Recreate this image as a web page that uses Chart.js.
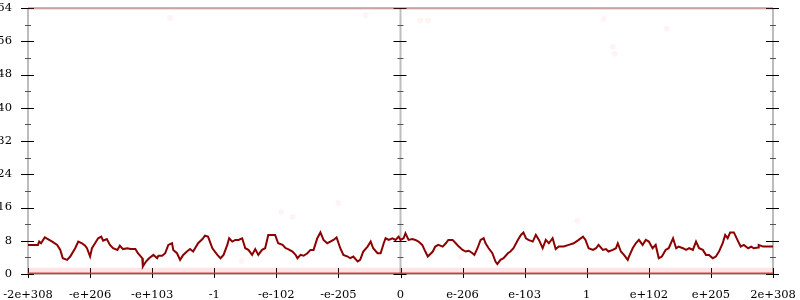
<!DOCTYPE html>
<html>
<head>
<meta charset="utf-8">
<script src="https://cdn.jsdelivr.net/npm/chart.js@4"></script>
<style>
  html, body { margin: 0; padding: 0; background: #fff; }
  #wrap { width: 800px; height: 300px; }
</style>
</head>
<body>
<div id="wrap"><canvas id="chart"></canvas></div>
<script>
// tick labels along the bottom, one per unit from -6 to 6
const xTickLabels = ['-2e+308', '-e+206', '-e+103', '-1', '-e-102', '-e-205', '0',
                     'e-206', 'e-103', '1', 'e+102', 'e+205', '2e+308'];
// vertical axes drawn at these x values
const axisXs = [-6, 0, 6];

// main trace (x in tick units, y value)
const lineX = [
  -6.00, -5.92, -5.84, -5.82, -5.79, -5.73, -5.68, -5.61, -5.53, -5.48,
  -5.44, -5.37, -5.32, -5.24, -5.19, -5.13, -5.08, -5.05, -5.00, -4.97,
  -4.92, -4.87, -4.82, -4.79, -4.73, -4.68, -4.63, -4.56, -4.52, -4.47,
  -4.40, -4.35, -4.27, -4.23, -4.16, -4.15, -4.10, -4.05, -3.98, -3.92,
  -3.90, -3.84, -3.79, -3.74, -3.68, -3.66, -3.60, -3.55, -3.50, -3.44,
  -3.39, -3.34, -3.26, -3.19, -3.15, -3.10,
  -3.03, -2.95, -2.90, -2.85, -2.79, -2.76, -2.71, -2.66, -2.61, -2.55,
  -2.50, -2.45, -2.39, -2.34, -2.29, -2.23, -2.18, -2.13, -2.06, -2.02,
  -1.97, -1.90, -1.85, -1.81, -1.74, -1.69, -1.66, -1.61, -1.56, -1.50,
  -1.45, -1.40, -1.34, -1.29, -1.24, -1.18, -1.13, -1.08, -1.03, -0.97,
  -0.92, -0.85, -0.81, -0.76, -0.69, -0.65, -0.60, -0.53, -0.48, -0.44,
  -0.37, -0.32, -0.27, -0.24, -0.19, -0.13, -0.08, -0.03,
  0.00, 0.05, 0.08, 0.13, 0.19, 0.24, 0.29, 0.35, 0.40, 0.44,
  0.52, 0.56, 0.61, 0.68, 0.73, 0.77, 0.84, 0.89, 0.94, 1.00,
  1.05, 1.10, 1.16, 1.19, 1.24, 1.29, 1.34, 1.37, 1.42, 1.48,
  1.53, 1.56, 1.61, 1.66, 1.73, 1.77, 1.82, 1.89, 1.94, 1.98,
  2.02, 2.06, 2.13, 2.18, 2.23, 2.29, 2.34, 2.39, 2.45, 2.50,
  2.55, 2.63, 2.71, 2.79, 2.87, 2.94, 2.98,
  3.03, 3.10, 3.15, 3.19, 3.26, 3.31, 3.35, 3.42, 3.47, 3.50,
  3.55, 3.60, 3.66, 3.68, 3.74, 3.79, 3.84, 3.90, 3.95, 4.00,
  4.06, 4.11, 4.16, 4.21, 4.27, 4.32, 4.39, 4.44, 4.48, 4.55,
  4.60, 4.65, 4.71, 4.76, 4.81, 4.87, 4.92, 4.97, 5.03, 5.08,
  5.13, 5.19, 5.23, 5.27, 5.31, 5.37, 5.44, 5.48, 5.53, 5.60,
  5.65, 5.69, 5.76, 5.77, 5.84, 5.92, 6.00
];
const lineY = [
  7.0, 7.0, 7.0, 7.8, 7.4, 8.8, 8.4, 7.8, 7.0, 5.8,
  3.8, 3.4, 4.2, 6.2, 7.8, 7.4, 6.8, 6.2, 4.2, 6.2,
  7.4, 8.6, 9.0, 8.0, 8.4, 7.0, 6.2, 5.8, 6.8, 6.0,
  6.2, 6.0, 6.0, 5.0, 3.8, 1.8, 3.0, 3.8, 4.6, 3.8,
  4.4, 4.4, 5.0, 7.0, 7.4, 5.8, 5.0, 3.4, 4.6, 5.4,
  6.0, 5.4, 7.4, 8.4, 9.2, 9.0,
  6.2, 4.6, 3.8, 4.6, 7.0, 8.6, 7.8, 8.2, 8.2, 8.6,
  6.2, 5.8, 4.6, 6.0, 4.6, 5.8, 6.2, 9.4, 9.4, 9.4,
  7.4, 7.0, 6.2, 6.0, 5.4, 4.6, 3.8, 4.6, 4.4, 5.0,
  5.8, 5.8, 8.6, 10.0, 8.2, 7.4, 7.8, 8.2, 8.8, 6.2,
  4.6, 4.2, 3.8, 4.2, 3.0, 3.4, 5.4, 6.6, 7.8, 6.2,
  5.0, 5.0, 7.4, 8.6, 8.2, 8.6, 8.2, 9.0,
  8.2, 8.6, 9.8, 8.2, 8.4, 8.2, 7.8, 7.0, 5.4, 4.2,
  5.4, 6.6, 7.0, 6.6, 7.4, 8.2, 8.2, 7.4, 6.6, 5.8,
  5.4, 5.6, 5.0, 4.6, 6.2, 8.2, 8.6, 7.4, 6.2, 5.0,
  3.0, 2.4, 3.4, 3.8, 5.0, 5.4, 6.2, 8.2, 9.4, 10.0,
  8.6, 8.2, 7.8, 9.4, 8.2, 6.2, 8.2, 7.4, 8.6, 6.0,
  6.6, 6.6, 7.0, 7.4, 8.2, 9.0, 8.2,
  6.2, 5.8, 6.2, 7.0, 5.8, 6.0, 5.4, 5.8, 6.2, 7.4,
  5.4, 4.6, 3.4, 4.2, 6.2, 7.4, 8.2, 7.0, 8.2, 7.8,
  6.2, 7.0, 3.8, 4.2, 5.8, 6.2, 8.6, 6.2, 6.6, 6.2,
  5.8, 6.2, 5.8, 7.8, 6.2, 5.8, 4.6, 4.6, 3.8, 4.2,
  5.4, 7.4, 9.4, 8.6, 10.0, 10.0, 7.8, 6.6, 7.0, 6.2,
  6.6, 6.2, 6.4, 7.0, 6.6, 6.6, 6.6
];

// faint stray points scattered in the plot
const strayX = [-3.71, -0.56, 0.32, 0.44, 3.27, 3.42, 3.45, 4.29, -1.74, -1.00, -1.92, 2.85, 0.97, -2.56];
const strayY = [61.6, 62.3, 61.0, 61.0, 61.4, 54.6, 53.0, 59.0, 13.7, 17.1, 14.9, 12.8, 4.1, 3.1];

// thin bands hugging the bottom and top edges
const bottomBand = 1.5;
const topBand = 63.5;

const xs = [-6, 6];

const axesPlugin = {
    id: 'axes',
    beforeDatasetsDraw(chart) {
        const { ctx, chartArea: a, scales: { x, y } } = chart;
        ctx.save();
        ctx.lineCap = 'butt';
        // axis lines
        ctx.strokeStyle = '#bdbdbd';
        ctx.lineWidth = 2;
        ctx.beginPath();
        axisXs.forEach(v => {
            const px = x.getPixelForValue(v);
            ctx.moveTo(px, a.top);
            ctx.lineTo(px, a.bottom);
        });
        ctx.moveTo(a.left, a.top);
        ctx.lineTo(a.right, a.top);
        ctx.moveTo(a.left, a.bottom);
        ctx.lineTo(a.right, a.bottom);
        ctx.stroke();

        // y ticks on every vertical axis, majors from the scale, minors halfway
        const majors = y.ticks.map(t => t.value);
        axisXs.forEach(v => {
            const px = x.getPixelForValue(v);
            ctx.strokeStyle = '#000';
            ctx.lineWidth = 1;
            ctx.beginPath();
            majors.forEach(m => {
                const py = Math.round(y.getPixelForValue(m)) + 0.5;
                ctx.moveTo(px - 7, py);
                ctx.lineTo(px + 6, py);
            });
            ctx.stroke();
            ctx.strokeStyle = '#555';
            ctx.beginPath();
            for (let i = 0; i < majors.length - 1; i++) {
                const py = Math.round(y.getPixelForValue((majors[i] + majors[i + 1]) / 2)) + 0.5;
                ctx.moveTo(px - 3, py);
                ctx.lineTo(px + 3, py);
            }
            ctx.stroke();
        });

        // x ticks along the bottom
        ctx.strokeStyle = '#000';
        ctx.lineWidth = 1;
        ctx.beginPath();
        x.ticks.forEach(t => {
            const px = Math.round(x.getPixelForValue(t.value)) + 0.5;
            ctx.moveTo(px, a.bottom - 6);
            ctx.lineTo(px, a.bottom + 4);
        });
        ctx.stroke();
        ctx.restore();
    }
};

document.addEventListener('DOMContentLoaded', () => {
    Chart.defaults.font.family = '"DejaVu Serif", serif';
    Chart.defaults.font.size = 11.5;
    Chart.defaults.color = '#000';

    const ctx = document.getElementById('chart').getContext('2d');
    new Chart(ctx, {
        type: 'line',
        data: {
            datasets: [
                {
                    data: lineX.map((v, i) => ({ x: v, y: lineY[i] })),
                    borderColor: '#8b0000',
                    borderWidth: 2,
                    pointRadius: 0,
                    order: 1
                },
                {
                    data: strayX.map((v, i) => ({ x: v, y: strayY[i] })),
                    showLine: false,
                    pointRadius: 3,
                    pointBorderWidth: 0,
                    pointBackgroundColor: 'rgba(255, 60, 60, 0.06)',
                    order: 4
                },
                {
                    data: xs.map(v => ({ x: v, y: bottomBand })),
                    borderWidth: 0,
                    pointRadius: 0,
                    fill: 'origin',
                    backgroundColor: 'rgba(240, 70, 70, 0.14)',
                    order: 3
                },
                {
                    data: xs.map(v => ({ x: v, y: 0 })),
                    borderColor: 'rgba(228, 40, 40, 0.9)',
                    borderWidth: 3,
                    pointRadius: 0,
                    order: 2
                },
                {
                    data: xs.map(v => ({ x: v, y: topBand })),
                    borderWidth: 0,
                    pointRadius: 0,
                    fill: 'end',
                    backgroundColor: 'rgba(240, 70, 70, 0.2)',
                    order: 3
                }
            ]
        },
        options: {
            responsive: true,
            maintainAspectRatio: false,
            animation: false,
            layout: { padding: { top: 8, right: 27, left: 0, bottom: 0 } },
            plugins: { legend: { display: false }, tooltip: { enabled: false } },
            scales: {
                x: {
                    type: 'linear',
                    min: -6,
                    max: 6,
                    grid: { display: false },
                    border: { display: false },
                    ticks: {
                        stepSize: 1,
                        autoSkip: false,
                        maxRotation: 0,
                        padding: 6,
                        callback: v => xTickLabels[v + 6]
                    },
                    afterFit: s => {
                        s.height = 26;
                        s.paddingLeft = 0;
                        s.paddingRight = 0;
                    }
                },
                y: {
                    min: 0,
                    max: 64,
                    grid: { display: false },
                    border: { display: false },
                    ticks: { stepSize: 8, padding: 8 },
                    afterFit: s => {
                        s.width = 28;
                        s.paddingTop = 0;
                        s.paddingBottom = 0;
                    }
                }
            }
        },
        plugins: [axesPlugin]
    });
});
</script>
</body>
</html>
